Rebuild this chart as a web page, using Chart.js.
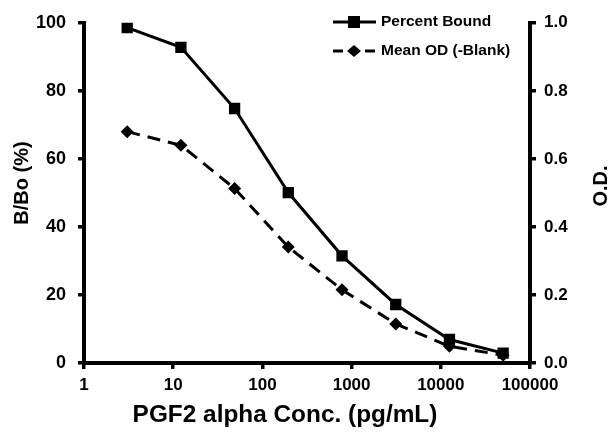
<!DOCTYPE html>
<html>
<head>
<meta charset="utf-8">
<script src="https://cdn.jsdelivr.net/npm/chart.js@4.4.1/dist/chart.umd.min.js"></script>
<style>
html,body{margin:0;padding:0;background:#fff;}
#wrap{width:610px;height:435px;position:relative;}
</style>
</head>
<body>
<div id="wrap"><canvas id="c" width="610" height="435"></canvas></div>
<script>
const concentrations = [3.05, 12.2, 48.8, 195, 781, 3125, 12500, 50000];
const percentBound = [98.6, 92.8, 74.8, 50.1, 31.5, 17.2, 6.9, 2.9];
const meanOD = [0.68, 0.64, 0.513, 0.341, 0.215, 0.115, 0.049, 0.023];
const xTicks = [1, 10, 100, 1000, 10000, 100000];
const seriesNames = ['Percent Bound', 'Mean OD (-Blank)'];
const titles = { x: 'PGF2 alpha Conc. (pg/mL)', yLeft: 'B/Bo (%)', yRight: 'O.D.' };

const FONT = "'Liberation Sans', Arial, sans-serif";

const titlePlugin = {
  id: 'customText',
  afterDraw(chart) {
    const ctx = chart.ctx;
    ctx.save();
    ctx.fillStyle = '#000';
    ctx.textAlign = 'center';
    ctx.textBaseline = 'middle';
    ctx.save();
    ctx.translate(285, 416);
    ctx.scale(1.06, 1);
    ctx.font = "bold 23px " + FONT;
    ctx.fillText(titles.x, 0, 0);
    ctx.restore();
    ctx.font = "bold 20px " + FONT;
    ctx.save();
    ctx.translate(22, 183);
    ctx.rotate(-Math.PI / 2);
    ctx.fillText(titles.yLeft, 0, 0);
    ctx.restore();
    ctx.save();
    ctx.translate(601, 186);
    ctx.rotate(-Math.PI / 2);
    ctx.fillText(titles.yRight, 0, 0);
    ctx.restore();

    // legend
    const rows = [
      { name: seriesNames[0], y: 22, dash: [], style: 'rect' },
      { name: seriesNames[1], y: 51, dash: [10, 6], style: 'diamond' }
    ];
    rows.forEach(r => {
      ctx.strokeStyle = '#000';
      ctx.lineWidth = 3;
      ctx.setLineDash(r.dash);
      ctx.beginPath();
      ctx.moveTo(333, r.y);
      ctx.lineTo(376, r.y);
      ctx.stroke();
      ctx.setLineDash([]);
      ctx.fillStyle = '#000';
      if (r.style === 'rect') {
        ctx.fillRect(348, r.y - 6, 12, 12);
      } else {
        ctx.beginPath();
        ctx.moveTo(354, r.y - 6);
        ctx.lineTo(361, r.y);
        ctx.lineTo(354, r.y + 6);
        ctx.lineTo(347, r.y);
        ctx.closePath();
        ctx.fill();
      }
      ctx.font = "bold 15.5px " + FONT;
      ctx.textAlign = 'left';
      ctx.textBaseline = 'middle';
      ctx.fillText(r.name, 381, r.y);
    });
    ctx.restore();
  }
};

const tickFont = { family: FONT, size: 17, weight: 'bold' };

new Chart(document.getElementById('c'), {
  type: 'line',
  data: {
    datasets: [
      {
        label: seriesNames[0],
        data: concentrations.map((c, i) => ({ x: c, y: percentBound[i] })),
        yAxisID: 'y',
        borderColor: '#000',
        backgroundColor: '#000',
        borderWidth: 3,
        pointStyle: 'rect',
        pointRadius: 8,
        pointBorderWidth: 0,
        tension: 0
      },
      {
        label: seriesNames[1],
        data: concentrations.map((c, i) => ({ x: c, y: meanOD[i] })),
        yAxisID: 'y1',
        borderColor: '#000',
        backgroundColor: '#000',
        borderWidth: 3,
        borderDash: [13, 8],
        pointStyle: 'rectRot',
        pointRadius: 6.5,
        pointBorderWidth: 0,
        tension: 0
      }
    ]
  },
  options: {
    responsive: false,
    animation: false,
    devicePixelRatio: 1,
    layout: { padding: { top: 13, right: 0, left: 0, bottom: 0 } },
    plugins: { legend: { display: false }, tooltip: { enabled: false } },
    scales: {
      x: {
        type: 'logarithmic',
        min: 1,
        max: 100000,
        afterBuildTicks: s => { s.ticks = xTicks.map(v => ({ value: v })); },
        afterFit: s => { s.height = 72; },
        grid: { drawOnChartArea: false, color: '#000', lineWidth: 3.5, tickLength: 6 },
        border: { color: '#000', width: 4 },
        ticks: { color: '#000', font: tickFont, padding: 6, maxRotation: 0, autoSkip: false,
                 callback: v => String(v) }
      },
      y: {
        position: 'left',
        min: 0,
        max: 100,
        afterFit: s => { s.width = 84; },
        grid: { drawOnChartArea: false, color: '#000', lineWidth: 3.5, tickLength: 6 },
        border: { color: '#000', width: 4 },
        ticks: { color: '#000', font: { family: FONT, size: 18, weight: 'bold' }, stepSize: 20, padding: 12 }
      },
      y1: {
        position: 'right',
        min: 0,
        max: 1,
        afterFit: s => { s.width = 80; },
        grid: { drawOnChartArea: false, color: '#000', lineWidth: 3.5, tickLength: 6 },
        border: { color: '#000', width: 4 },
        ticks: { color: '#000', font: tickFont, stepSize: 0.2, padding: 8,
                 callback: v => Number(v).toFixed(1) }
      }
    }
  },
  plugins: [titlePlugin]
});
</script>
</body>
</html>
